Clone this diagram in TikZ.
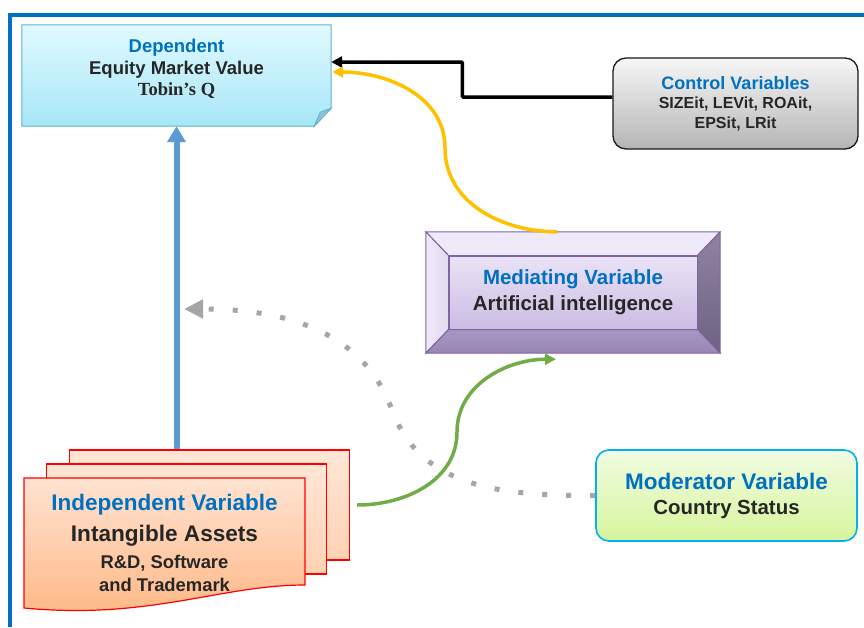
\documentclass[tikz,border=0pt]{standalone}
\usepackage{fontspec}
\setmainfont{Liberation Sans}
\newfontfamily\timesfont{Liberation Serif}
\usepackage{xcolor}
\usetikzlibrary{positioning,arrows.meta,backgrounds}

\definecolor{headblue}{HTML}{0070C0}
\definecolor{bodytext}{HTML}{262626}
\definecolor{depTop}{HTML}{E1FAFF}
\definecolor{depBot}{HTML}{A7E6F7}
\definecolor{depLine}{HTML}{5AB4CF}
\definecolor{depFold}{HTML}{8FC3D3}
\definecolor{ctrlTop}{HTML}{F7F7F7}
\definecolor{ctrlBot}{HTML}{B5B5B5}
\definecolor{medLine}{HTML}{8064A2}
\definecolor{medTop}{HTML}{EAE3F6}
\definecolor{medBot}{HTML}{CBBCE2}
\definecolor{pageTop}{HTML}{FFE6D6}
\definecolor{pageBot}{HTML}{FFD2B3}
\definecolor{frontTop}{HTML}{FFE3D2}
\definecolor{frontBot}{HTML}{FFB783}
\definecolor{modTop}{HTML}{F1FCE3}
\definecolor{modBot}{HTML}{D6F59C}
\definecolor{modLine}{HTML}{00B0F0}
\definecolor{arrowBlue}{HTML}{5B9BD5}
\definecolor{arrowYellow}{HTML}{FFC000}
\definecolor{arrowGreen}{HTML}{70AD47}
\definecolor{arrowGray}{HTML}{A6A6A6}

\begin{document}
\begin{tikzpicture}[x=1pt, y=-1pt,
    conn/.style={line width=3.5pt, -{Triangle[length=11pt,width=11pt]}},
    page/.style={draw=red, line width=1.2pt, top color=pageTop, bottom color=pageBot, minimum width=280pt, minimum height=110pt, inner sep=0pt},
    label/.style={text=bodytext, align=center, inner sep=0pt}]
    \useasboundingbox (0,0) rectangle (864,627);
    \draw[headblue, line width=4pt] (10,627) -- (10,14.5) -- (864,14.5);

    % dependent
    \node[minimum width=309pt, minimum height=101pt, inner sep=0pt] (dep) at (176.5,75.5) {};
    \node[label, font=\bfseries\fontsize{18.5}{21.5}\selectfont] (depText) at ([yshift=6.5pt]dep.center) {{\color{headblue}Dependent}\\ Equity Market Value\\ {\timesfont Tobin’s Q}};
    \begin{scope}[on background layer]
        \path[draw=depLine, line width=1pt, top color=depTop, bottom color=depBot] (dep.north west) -- (dep.north east) -- ([yshift=18pt]dep.south east) -- ([xshift=-17pt]dep.south east) -- (dep.south west) -- cycle;
        \path[draw=depLine, fill=depFold, line width=0.8pt] ([yshift=18pt]dep.south east) -- ([xshift=-17pt]dep.south east) -- ([xshift=-11pt,yshift=14pt]dep.south east) -- cycle;
    \end{scope}

    % control
    \node[draw=black!90, line width=1.3pt, rounded corners=13pt, top color=ctrlTop, bottom color=ctrlBot, minimum width=245pt, minimum height=91pt, label, font=\bfseries\fontsize{16}{19.5}\selectfont] (ctrl) at (735.5,103.5) {{\fontsize{18}{19.5}\selectfont\color{headblue}Control Variables}\\ SIZEit, LEVit, ROAit,\\ EPSit, LRit};

    % mediating
    \node[minimum width=294pt, minimum height=121pt, inner sep=0pt] (medBox) at (573,292.5) {};
    \node[draw=medLine, line width=1pt, top color=medTop, bottom color=medBot, minimum width=248pt, minimum height=73pt, label, font=\bfseries\fontsize{20.5}{26}\selectfont] (med) at (medBox) {{\color{headblue}Mediating Variable}\\ Artificial intelligence};
    \path[draw=medLine, line width=1pt, fill={rgb,255:red,239;green,234;blue,249}] (medBox.north west) -- (medBox.north east) -- (med.north east) -- (med.north west) -- cycle;
    \path[draw=medLine, line width=1pt, left color={rgb,255:red,238;green,233;blue,248}, right color={rgb,255:red,226;green,218;blue,240}] (medBox.north west) -- (med.north west) -- (med.south west) -- (medBox.south west) -- cycle;
    \path[draw=medLine, line width=1pt, top color={rgb,255:red,143;green,131;blue,160}, bottom color={rgb,255:red,110;green,98;blue,130}] (medBox.north east) -- (medBox.south east) -- (med.south east) -- (med.north east) -- cycle;
    \path[draw=medLine, line width=1pt, top color={rgb,255:red,168;green,150;blue,196}, bottom color={rgb,255:red,152;green,134;blue,180}] (medBox.south west) -- (med.south west) -- (med.south east) -- (medBox.south east) -- cycle;

    % independent
    \node[page] (indep3) at (209.5,505) {};
    \node[page] (indep2) at (186.5,519) {};
    \path[draw=red, line width=1.2pt, top color=frontTop, bottom color=frontBot] (24,478) -- (305,478) -- (305,585) .. controls (220,585) and (150,620) .. (24,608) -- cycle;
    \node[label, font=\bfseries\fontsize{18.4}{23}\selectfont] (indep) at (164.5,543) {{\fontsize{22.5}{23}\selectfont\color{headblue}Independent Variable}\\[8pt] {\fontsize{22.6}{23}\selectfont Intangible Assets}\\[4pt] R\&D, Software\\ and Trademark};

    % moderator
    \node[draw=modLine, line width=1.6pt, rounded corners=13pt, top color=modTop, bottom color=modBot, minimum width=261pt, minimum height=91pt, label, font=\bfseries\fontsize{20.4}{25}\selectfont] (mod) at (726.5,495.5) {{\fontsize{22.5}{25}\selectfont\color{headblue}Moderator Variable}\\ Country Status};

    \coordinate (tip) at (184,309);

    \draw[arrowBlue, line width=6pt, -{Triangle[length=16pt,width=18pt]}] (indep3.north -| dep.south) -- (dep.south);
    \draw[conn, black, rounded corners=1pt] ([yshift=6.5pt]ctrl.west) -- ++(-150,0) |- ([yshift=13.5pt]dep.east);
    \draw[conn, arrowYellow] ([xshift=-16pt]medBox.north) to[out=180,in=-90] (445,148) to[out=90,in=0] ([yshift=3.5pt,xshift=1pt]dep.east);
    \draw[conn, arrowGreen] ([xshift=7pt]indep3.east) to[out=0,in=-90] (457,432) to[out=90,in=180] ([xshift=-17pt,yshift=-6pt]medBox.south);
    \draw[arrowGray, line width=5pt, dash pattern=on 5pt off 19pt, -{Triangle[length=19pt,width=18pt]}] (mod.west) to[out=180,in=-70] (392,410) to[out=110,in=0] (tip);
\end{tikzpicture}
\end{document}
